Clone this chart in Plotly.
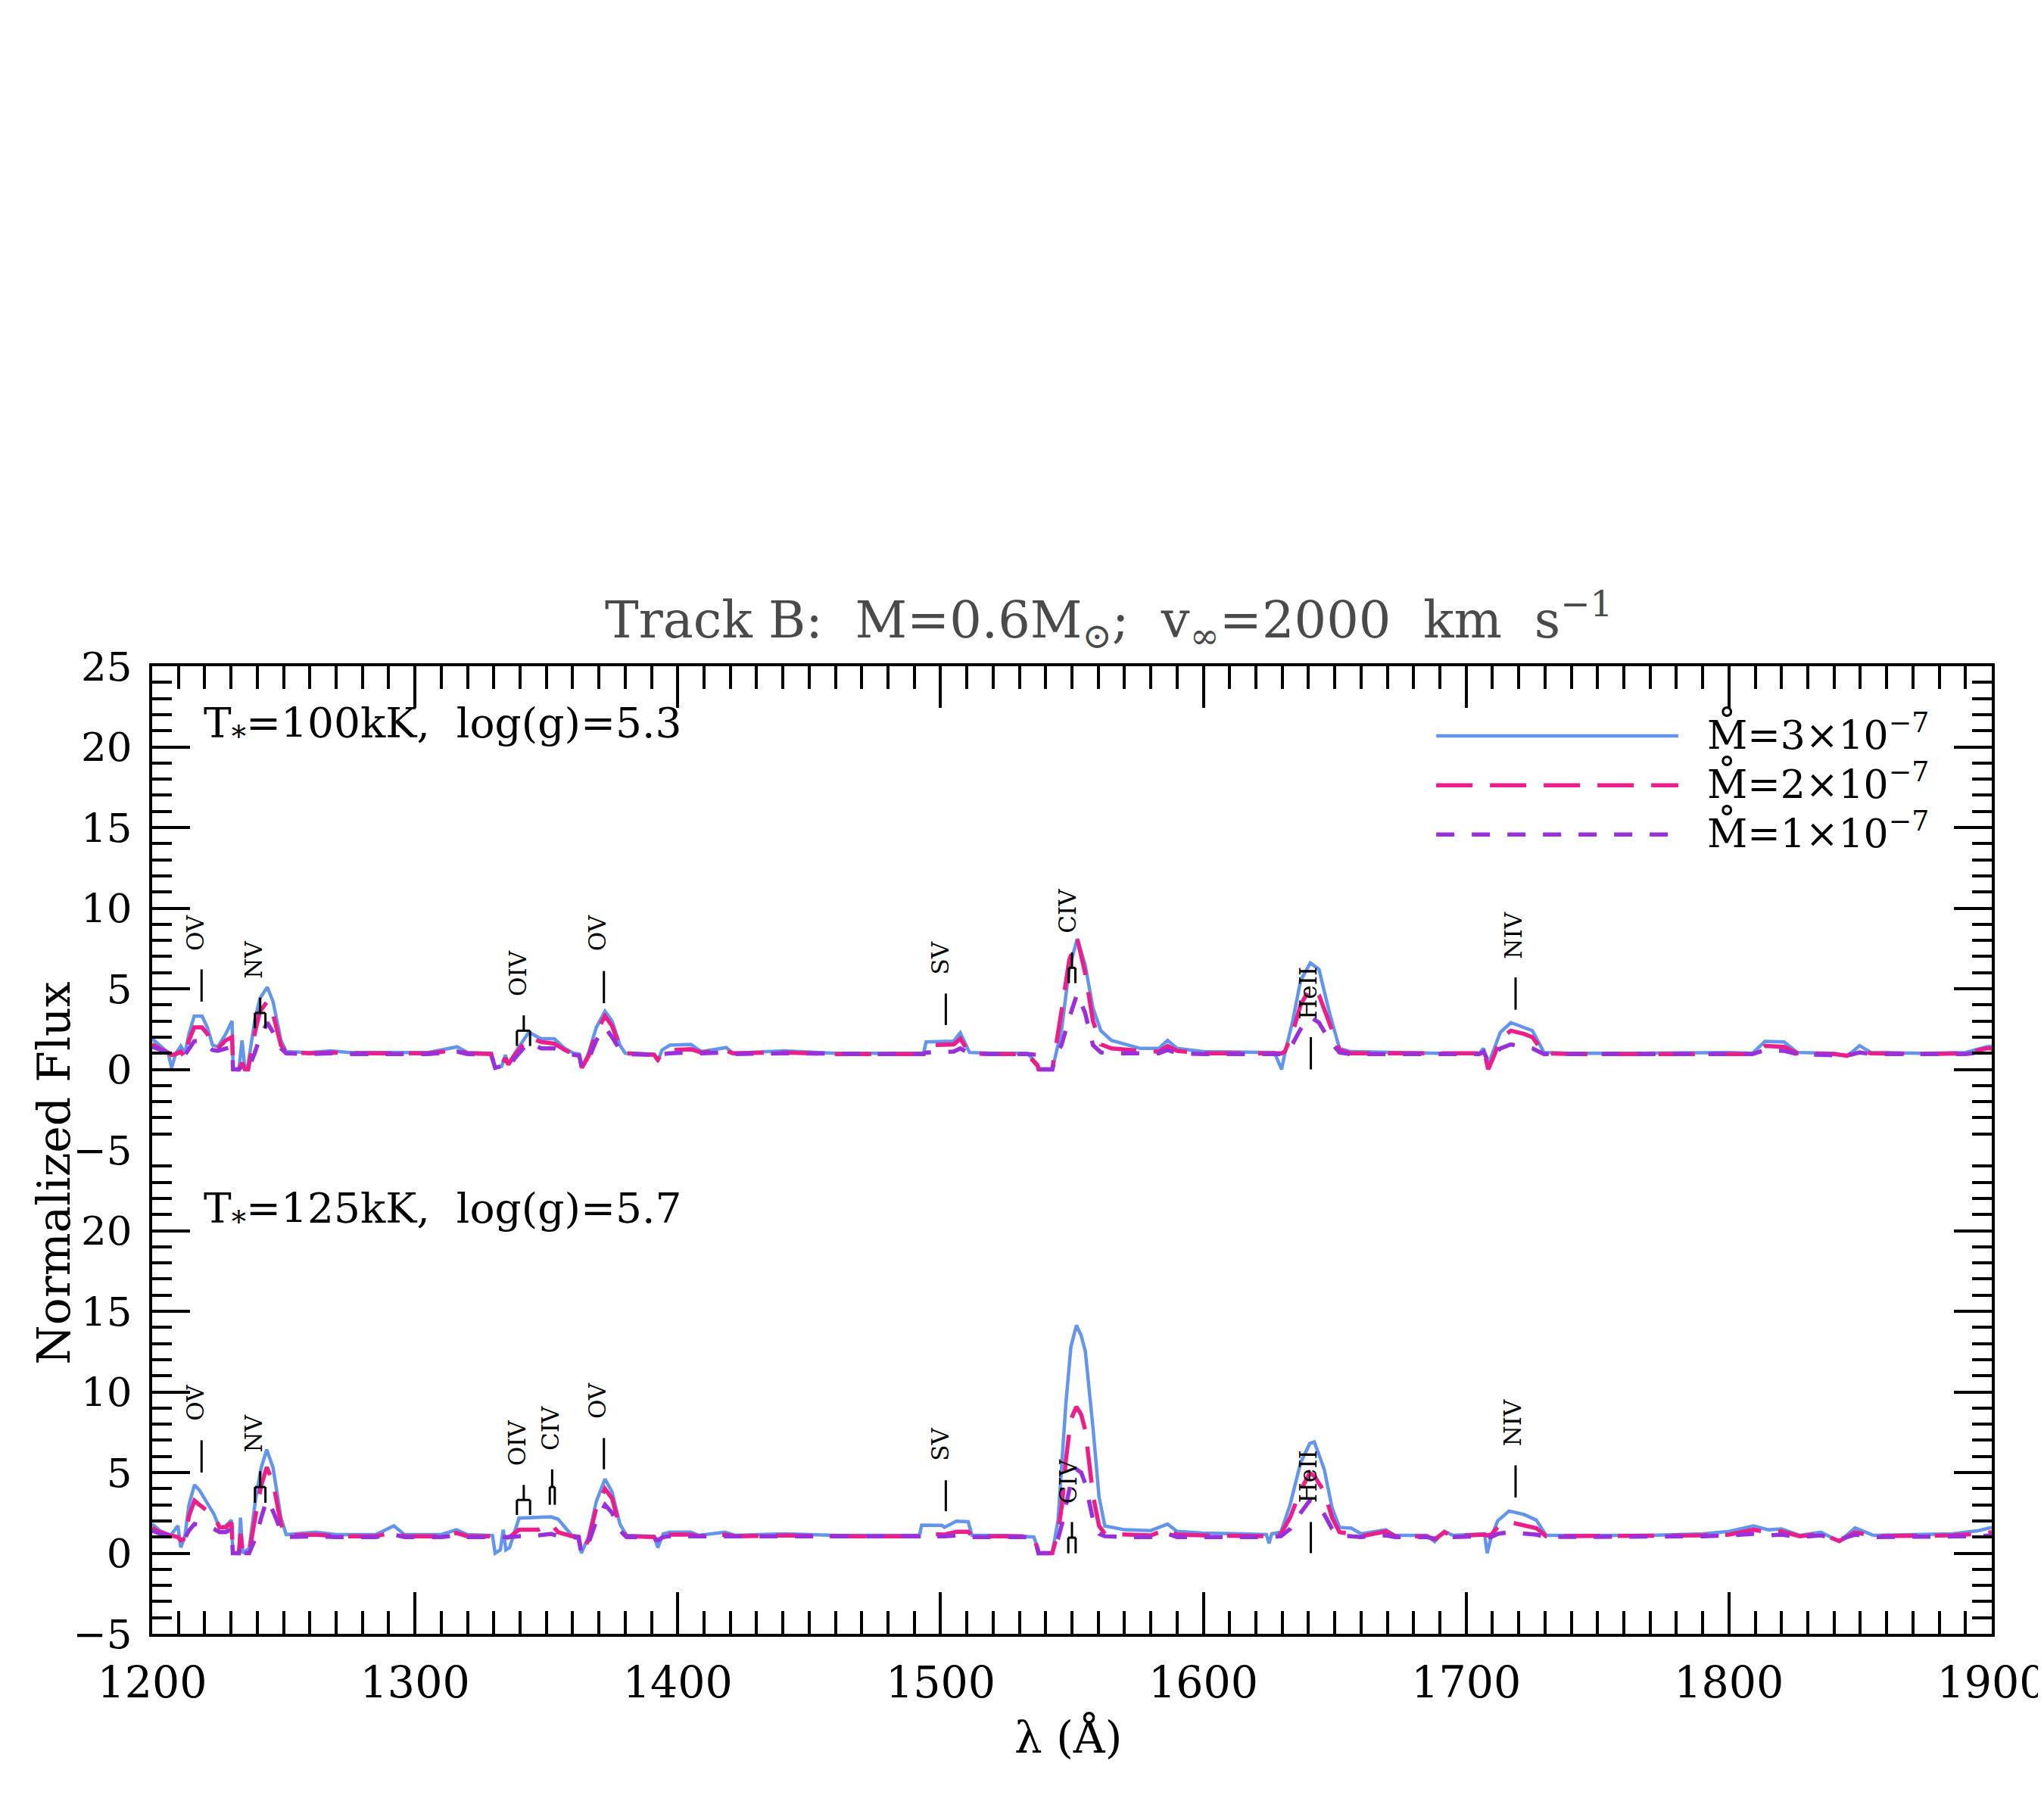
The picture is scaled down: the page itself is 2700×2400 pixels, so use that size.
import plotly.graph_objects as go

FONT = "DejaVu Serif"
C_HI = "#6495ED"
C_MID = "#EC1E8C"
C_LO = "#9A30DC"

# ---------------- data: top panel (T*=100kK) ----------------
wl_top = [1200, 1203, 1206, 1207.4, 1209, 1210.9, 1212.5, 1214, 1216, 1219,
          1221, 1223, 1225, 1228, 1230.4, 1230.8, 1233, 1234.2, 1235.3, 1236.5,
          1239, 1241, 1243.8, 1246, 1249, 1251, 1260, 1268, 1275, 1290,
          1305, 1316, 1320, 1329, 1330.5, 1333, 1334.4, 1335.5, 1338, 1343.3,
          1348, 1353, 1357, 1360.4, 1362.5, 1363.5, 1366, 1369, 1372.3, 1375,
          1378, 1380, 1391, 1392.4, 1394, 1397, 1405, 1409, 1418.4, 1421,
          1440.5, 1460, 1480, 1493.5, 1494.5, 1505, 1507.5, 1511, 1520, 1533,
          1537, 1537.3, 1542.5, 1544, 1546, 1549, 1552, 1555, 1558, 1561,
          1565, 1576, 1583, 1586.4, 1590, 1600, 1615, 1627, 1629.8, 1631,
          1634, 1637, 1640.7, 1644, 1648, 1651.8, 1656, 1670, 1690, 1705,
          1706.6, 1708.4, 1710.5, 1713, 1717, 1722, 1725.2, 1729.6, 1740, 1760,
          1790, 1800, 1809, 1813.7, 1821, 1826, 1840, 1845, 1849.7, 1854,
          1875, 1890, 1898, 1900]
top_m3 = [1.9, 1.5, 1.05, 0.1, 1.0, 1.45, 1.0, 2.2, 3.3, 3.3,
          2.6, 1.5, 1.4, 2.2, 3.0, 0.0, 0.0, 1.8, 0.0, 0.3,
          3.0, 4.4, 5.1, 4.2, 1.8, 1.1, 1.05, 1.15, 1.05, 1.05,
          1.05, 1.4, 1.05, 1.0, 0.1, 0.2, 0.9, 0.3, 1.0, 2.3,
          1.9, 1.9, 1.3, 1.0, 0.95, 0.1, 1.0, 2.6, 3.6, 3.0,
          1.5, 1.0, 0.95, 0.5, 1.2, 1.5, 1.55, 1.1, 1.35, 1.0,
          1.15, 1.0, 1.0, 1.0, 1.7, 1.75, 2.27, 1.05, 1.0, 1.0,
          0.3, 0.0, 0.0, 1.0, 2.4, 6.3, 8.1, 6.5, 3.8, 2.4,
          1.8, 1.3, 1.3, 1.8, 1.3, 1.1, 1.05, 1.05, 0.0, 1.0,
          3.0, 5.5, 6.6, 6.2, 3.5, 1.3, 1.1, 1.05, 1.0, 1.0,
          1.3, 0.3, 1.2, 2.3, 2.9, 2.6, 2.4, 1.05, 1.0, 1.0,
          1.05, 1.05, 1.0, 1.74, 1.7, 1.05, 1.0, 0.82, 1.47, 1.05,
          1.0, 1.05, 1.4, 1.45]
top_m2 = [1.55, 1.3, 1.05, 0.9, 0.95, 1.1, 0.7, 1.8, 2.6, 2.6,
          2.2, 1.4, 1.3, 1.8, 2.0, 0.0, 0.0, 0.4, 0.0, 0.0,
          2.2, 3.6, 4.2, 3.4, 1.5, 1.05, 1.0, 1.05, 1.0, 1.0,
          1.0, 1.2, 1.0, 0.95, 0.1, 0.3, 0.7, 0.3, 0.9, 2.0,
          1.7, 1.6, 1.2, 0.95, 0.9, 0.1, 0.8, 2.3, 3.3, 2.7,
          1.4, 1.0, 0.9, 0.6, 1.0, 1.2, 1.25, 1.05, 1.15, 1.0,
          1.05, 0.95, 0.95, 0.95, 1.5, 1.55, 1.9, 1.0, 0.95, 0.95,
          0.2, 0.0, 0.0, 1.4, 3.6, 6.8, 8.1, 6.0, 3.0, 1.55,
          1.3, 1.15, 1.1, 1.45, 1.15, 1.0, 1.0, 1.0, 1.0, 1.1,
          2.3, 4.0, 5.06, 4.6, 2.8, 1.2, 1.0, 1.0, 0.95, 1.0,
          1.3, 0.0, 0.8, 1.9, 2.4, 2.2, 2.0, 1.0, 0.95, 0.95,
          1.0, 1.0, 0.95, 1.45, 1.4, 1.0, 0.95, 0.85, 1.2, 1.0,
          0.95, 1.0, 1.3, 1.3]
top_m1 = [1.4, 1.2, 1.05, 1.0, 1.0, 1.05, 0.9, 1.3, 1.75, 1.8,
          1.5, 1.2, 1.15, 1.3, 1.4, 0.0, 0.0, 0.2, 0.0, 0.0,
          1.0, 2.0, 2.9, 2.3, 1.3, 1.0, 0.95, 1.0, 0.95, 0.95,
          0.95, 1.1, 0.95, 0.9, 0.1, 0.2, 0.3, 0.1, 0.7, 1.7,
          1.3, 1.3, 1.05, 0.9, 0.85, 0.1, 0.6, 1.8, 2.6, 2.0,
          1.2, 0.95, 0.9, 0.7, 0.95, 1.0, 1.05, 1.0, 1.05, 0.95,
          1.0, 0.95, 0.95, 0.95, 1.05, 1.1, 1.3, 1.0, 0.95, 0.95,
          0.9, 0.0, 0.0, 0.9, 1.5, 3.2, 4.7, 3.5, 1.5, 1.05,
          1.0, 1.0, 1.0, 1.2, 1.0, 0.95, 0.95, 0.95, 0.9, 0.95,
          1.6, 2.5, 3.25, 2.9, 1.8, 1.05, 0.95, 0.95, 0.95, 0.95,
          1.1, 0.5, 0.9, 1.3, 1.55, 1.4, 1.3, 0.95, 0.95, 0.95,
          0.95, 0.95, 0.95, 1.2, 1.15, 0.95, 0.9, 0.85, 1.05, 0.95,
          0.95, 0.95, 1.1, 1.1]

# ---------------- data: bottom panel (T*=125kK) ----------------
wl_bot = [1200, 1203, 1207, 1209.8, 1210.9, 1212.5, 1214, 1216.1, 1218, 1220.5,
          1223.5, 1225.7, 1228, 1230.2, 1230.7, 1233, 1233.6, 1234.5, 1236.9, 1239.5,
          1241.5, 1243.6, 1246, 1249, 1251, 1262.2, 1270, 1285, 1292, 1296,
          1310, 1315.8, 1320, 1329.5, 1330.5, 1332.5, 1333.6, 1334.6, 1336, 1339.6,
          1347, 1351.8, 1354.5, 1359.7, 1362.3, 1363.3, 1366, 1369, 1372.3, 1375,
          1378, 1380.5, 1391, 1392.4, 1394.5, 1397, 1405, 1408, 1418, 1422,
          1440.8, 1460, 1480, 1492, 1492.8, 1500.5, 1501.5, 1506, 1510.5, 1512,
          1525, 1535.5, 1537, 1537.3, 1542.5, 1544.7, 1546.2, 1547.7, 1549.6, 1551.7,
          1553.5, 1555.1, 1558.1, 1560.3, 1562.5, 1570, 1580, 1586.4, 1590, 1600,
          1615, 1624, 1625, 1626, 1629.5, 1633, 1637, 1640.5, 1642.2, 1646,
          1649, 1651.8, 1656.3, 1660, 1669.4, 1673, 1685, 1688, 1691.7, 1695,
          1707, 1708, 1709.5, 1712, 1716.3, 1722, 1726.7, 1730.4, 1745, 1770,
          1790, 1800, 1809.3, 1815, 1820, 1827, 1835, 1842, 1848, 1855,
          1870, 1885, 1895, 1900]
bot_m3 = [1.8, 1.4, 1.1, 1.7, 0.35, 1.1, 3.0, 4.23, 3.9, 3.26,
          2.42, 1.57, 1.7, 2.05, 0.0, 0.0, 2.2, 0.0, 0.3, 3.5,
          5.3, 6.42, 5.3, 2.2, 1.15, 1.3, 1.15, 1.15, 1.69, 1.15,
          1.15, 1.45, 1.15, 1.1, 0.0, 0.2, 1.45, 0.2, 0.35, 2.17,
          2.2, 2.25, 2.1, 1.1, 1.05, 0.0, 1.0, 3.2, 4.6, 3.8,
          1.8, 1.1, 1.05, 0.35, 1.2, 1.3, 1.3, 1.1, 1.3, 1.1,
          1.2, 1.1, 1.1, 1.1, 1.74, 1.72, 1.6, 1.98, 1.95, 1.1,
          1.1, 1.0, 0.3, 0.0, 0.0, 2.05, 5.69, 9.3, 12.8, 14.13,
          13.5, 12.5, 7.6, 3.5, 1.69, 1.45, 1.4, 1.8, 1.35, 1.25,
          1.2, 1.15, 0.6, 1.2, 1.3, 3.0, 5.6, 6.8, 6.9, 5.2,
          2.8, 1.6, 1.55, 1.2, 1.45, 1.1, 1.1, 0.72, 1.35, 1.1,
          1.2, 0.0, 1.0, 2.0, 2.61, 2.4, 2.05, 1.1, 1.1, 1.1,
          1.2, 1.35, 1.69, 1.45, 1.5, 1.1, 1.3, 0.72, 1.57, 1.1,
          1.15, 1.2, 1.4, 1.6]
bot_m2 = [1.57, 1.3, 1.1, 1.0, 0.8, 0.9, 2.3, 3.26, 3.0, 2.7,
          2.3, 1.6, 1.6, 1.9, 0.0, 0.0, 1.2, 0.0, 0.0, 2.5,
          4.2, 5.33, 4.4, 1.8, 1.1, 1.15, 1.05, 1.05, 1.3, 1.05,
          1.05, 1.25, 1.05, 1.05, 0.9, 0.95, 1.0, 0.95, 1.0, 1.45,
          1.45, 1.81, 1.3, 1.05, 1.0, 0.0, 0.8, 2.8, 3.99, 3.4,
          1.6, 1.05, 1.0, 0.6, 1.05, 1.15, 1.15, 1.05, 1.15, 1.05,
          1.1, 1.05, 1.05, 1.05, 1.2, 1.2, 1.15, 1.33, 1.33, 1.05,
          1.05, 1.05, 0.2, 0.0, 0.0, 1.3, 3.0, 5.8, 8.3, 9.08,
          8.6, 7.6, 3.5, 1.7, 1.2, 1.15, 1.1, 1.5, 1.15, 1.1,
          1.05, 1.05, 0.9, 1.1, 1.2, 2.2, 3.9, 4.96, 4.8, 3.8,
          2.2, 1.3, 1.2, 1.05, 1.35, 1.05, 1.05, 0.85, 1.3, 1.05,
          1.15, 1.1, 1.15, 1.6, 1.93, 1.75, 1.55, 1.05, 1.05, 1.05,
          1.1, 1.15, 1.45, 1.3, 1.35, 1.05, 1.2, 0.75, 1.3, 1.05,
          1.05, 1.1, 1.2, 1.3]
bot_m1 = [1.4, 1.2, 1.05, 1.0, 0.9, 0.95, 1.4, 1.81, 1.75, 1.7,
          1.5, 1.3, 1.3, 1.5, 0.0, 0.0, 0.6, 0.0, 0.0, 1.0,
          2.2, 3.3, 2.6, 1.4, 1.0, 1.05, 1.0, 1.0, 1.15, 1.0,
          1.0, 1.1, 1.0, 1.0, 0.95, 1.0, 1.0, 1.0, 1.0, 1.05,
          1.1, 1.2, 1.05, 1.0, 0.95, 0.0, 0.6, 2.0, 3.0, 2.5,
          1.4, 1.0, 0.95, 0.8, 1.0, 1.05, 1.05, 1.0, 1.05, 1.0,
          1.0, 1.0, 1.0, 1.0, 1.05, 1.05, 1.05, 1.1, 1.1, 1.0,
          1.0, 1.0, 0.2, 0.0, 0.0, 0.9, 1.8, 2.9, 4.4, 5.2,
          5.0, 4.3, 2.0, 1.2, 1.05, 1.0, 1.0, 1.2, 1.0, 1.0,
          1.0, 1.0, 0.95, 1.0, 1.05, 1.5, 2.5, 3.27, 3.2, 2.4,
          1.5, 1.1, 1.05, 1.0, 1.1, 1.0, 1.0, 0.9, 1.1, 1.0,
          1.05, 1.0, 1.0, 1.2, 1.3, 1.25, 1.15, 1.0, 1.0, 1.0,
          1.05, 1.1, 1.2, 1.1, 1.15, 1.0, 1.1, 0.85, 1.15, 1.0,
          1.0, 1.05, 1.05, 1.1]

# ---------------- line identifications ----------------
top_lab_names = ["OV", "NV", "OIV", "OV", "SV", "CIV", "HeII", "NIV"]
top_lab_wl = [1218.8, 1241.1, 1341.4, 1371.9, 1502.0, 1550.0, 1640.9, 1718.8]
top_lab_y0 = [4.2, 3.5, 2.4, 4.1, 2.75, 6.3, 0.0, 3.7]
top_lab_y1 = [6.2, 4.45, 3.35, 6.1, 4.7, 7.25, 2.0, 5.7]
top_lab_tx = [1216.4, 1238.7, 1339.1, 1369.4, 1500.0, 1548.4, 1639.9, 1717.7]
top_lab_ty = [7.25, 5.55, 4.46, 7.25, 5.79, 8.34, 3.0, 6.76]
top_lab_br = [None, (1239.1, 1243.1), (1338.8, 1343.8), None, None,
              (1548.8, 1551.3), None, None]

bot_lab_names = ["OV", "NV", "OIV", "CIV", "OV", "SV", "CIV", "HeII", "NIV"]
bot_lab_wl = [1218.8, 1241.1, 1341.4, 1352.2, 1371.9, 1502.0, 1550.0, 1640.9, 1718.8]
bot_lab_y0 = [5.0, 4.1, 3.3, 4.1, 5.2, 2.6, 0.96, 0.0, 3.45]
bot_lab_y1 = [7.0, 5.08, 4.23, 5.2, 7.14, 4.52, 1.93, 1.93, 5.45]
bot_lab_tx = [1216.4, 1238.7, 1339.1, 1351.5, 1369.4, 1500.0, 1548.4, 1639.9, 1717.7]
bot_lab_ty = [8.11, 6.17, 5.33, 6.29, 8.24, 5.64, 2.97, 3.02, 6.54]
bot_lab_br = [None, (1239.1, 1243.1), (1338.8, 1343.8), (1351.3, 1353.2), None,
              None, (1548.6, 1551.4), None, None]

legend_labels = ["M\u030A=3\u00d710<sup>\u22127</sup>",
                 "M\u030A=2\u00d710<sup>\u22127</sup>",
                 "M\u030A=1\u00d710<sup>\u22127</sup>"]

x_ticks = [1200, 1300, 1400, 1500, 1600, 1700, 1800, 1900]
y_ticks_top = [-5, 0, 5, 10, 15, 20, 25]
y_ticks_bot = [-5, 0, 5, 10, 15, 20]

styles = [(C_HI, "solid", 4.5), (C_MID, "48px,23px", 5.5), (C_LO, "24px,23px", 5.5)]

fig = go.Figure()
for xa, ya, wl, sets in [("x2", "y2", wl_top, [top_m3, top_m2, top_m1]),
                         ("x", "y", wl_bot, [bot_m3, bot_m2, bot_m1])]:
    for vals, (col, dash, w) in zip(sets, styles):
        fig.add_trace(go.Scatter(x=wl, y=vals, mode="lines", xaxis=xa, yaxis=ya,
                                 line=dict(color=col, dash=dash, width=w),
                                 showlegend=False, hoverinfo="skip"))

shapes = []
annotations = []
lab_font = dict(family=FONT, size=31, color="black")
for xa, ya, names, wls, y0s, y1s, txs, tys, brs in [
        ("x2", "y2", top_lab_names, top_lab_wl, top_lab_y0, top_lab_y1, top_lab_tx, top_lab_ty, top_lab_br),
        ("x", "y", bot_lab_names, bot_lab_wl, bot_lab_y0, bot_lab_y1, bot_lab_tx, bot_lab_ty, bot_lab_br)]:
    for nm, wl, y0, y1, tx, ty, br in zip(names, wls, y0s, y1s, txs, tys, brs):
        ln = dict(color="black", width=3)
        shapes.append(dict(type="line", xref=xa, yref=ya, x0=wl, x1=wl, y0=y0, y1=y1, line=ln))
        if br is not None:
            leg = y1 - y0
            shapes.append(dict(type="line", xref=xa, yref=ya, x0=br[0], x1=br[1], y0=y0, y1=y0, line=ln))
            shapes.append(dict(type="line", xref=xa, yref=ya, x0=br[0], x1=br[0], y0=y0, y1=y0 - leg, line=ln))
            shapes.append(dict(type="line", xref=xa, yref=ya, x0=br[1], x1=br[1], y0=y0, y1=y0 - leg, line=ln))
        annotations.append(dict(text=nm, x=tx, y=ty, xref=xa, yref=ya, textangle=-90,
                                xanchor="center", yanchor="bottom", showarrow=False,
                                font=lab_font))

# legend (drawn manually for long line samples)
leg_y = [0.928, 0.877, 0.826]
for (col, dash, w), yy, txt in zip(styles, leg_y, legend_labels):
    shapes.append(dict(type="line", xref="paper", yref="paper", x0=0.698, x1=0.8296,
                       y0=yy, y1=yy, line=dict(color=col, dash=dash, width=w)))
    annotations.append(dict(text=txt, x=0.8445, y=yy + 0.004, xref="paper", yref="paper",
                            xanchor="left", yanchor="middle", showarrow=False,
                            font=dict(family=FONT, size=52, color="black")))

# titles and panel labels
NB = "\u00a0"
annotations.append(dict(text="Track B:" + NB + " M=0.6M<sub>\u2299</sub>;" + NB + " v<sub>\u221e</sub>=2000" + NB + " km" + NB + " s<sup>\u22121</sup>",
                        x=0.52, y=1.0485, xref="paper", yref="paper", xanchor="center",
                        yanchor="middle", showarrow=False,
                        font=dict(family=FONT, size=67, color="#4a4a4a")))
annotations.append(dict(text="Normalized Flux", x=-0.0535, y=0.476, xref="paper", yref="paper",
                        textangle=-90, xanchor="center", yanchor="middle", showarrow=False,
                        font=dict(family=FONT, size=60, color="black")))
annotations.append(dict(text="\u03bb (\u00c5)", x=0.498, y=-0.107, xref="paper", yref="paper",
                        xanchor="center", yanchor="middle", showarrow=False,
                        font=dict(family=FONT, size=58, color="black")))
annotations.append(dict(text="T<sub>*</sub>=100kK," + NB + " log(g)=5.3", x=0.027, y=0.938,
                        xref="paper", yref="paper", xanchor="left", yanchor="middle",
                        showarrow=False, font=dict(family=FONT, size=55, color="black")))
annotations.append(dict(text="T<sub>*</sub>=125kK," + NB + " log(g)=5.7", x=0.027, y=0.437,
                        xref="paper", yref="paper", xanchor="left", yanchor="middle",
                        showarrow=False, font=dict(family=FONT, size=55, color="black")))

xtickfont = dict(family=FONT, size=57, color="black")
ytickfont = dict(family=FONT, size=53, color="black")
xcommon = dict(range=[1200, 1900], tickmode="array", tickvals=x_ticks, ticks="inside",
               ticklen=55, tickwidth=3.5, tickcolor="black", showline=True, linewidth=4,
               linecolor="black", showgrid=False, zeroline=False,
               minor=dict(tickmode="linear", tick0=1200, dtick=10, ticks="inside",
                          ticklen=30, tickwidth=3.5, tickcolor="black", showgrid=False))
ycommon = dict(range=[-5, 25], tickmode="array", ticks="inside", ticklen=50, tickwidth=3.5,
               tickcolor="black", showline=True, linewidth=4, linecolor="black",
               mirror="ticks", showgrid=False, zeroline=False, tickfont=ytickfont,
               ticklabelstandoff=12,
               minor=dict(tickmode="linear", tick0=0, dtick=1, ticks="inside",
                          ticklen=26, tickwidth=3.5, tickcolor="black", showgrid=False))

# page body has an 8px default margin: compensate so the frame lands where the reference has it
fig.update_layout(
    width=2700, height=2400,
    margin=dict(l=193, r=77, t=872, b=250, autoexpand=False),
    paper_bgcolor="white", plot_bgcolor="white", showlegend=False,
    xaxis=dict(domain=[0, 1], anchor="y", tickfont=xtickfont, ticklabelstandoff=12, **xcommon),
    xaxis2=dict(domain=[0, 1], anchor="y2", side="top", matches="x",
                showticklabels=False, **xcommon),
    yaxis=dict(domain=[0, 0.5], anchor="x", tickvals=y_ticks_bot, **ycommon),
    yaxis2=dict(domain=[0.5, 1], anchor="x2", tickvals=y_ticks_top, **ycommon),
    shapes=shapes, annotations=annotations,
)

fig.write_html("out.html")
